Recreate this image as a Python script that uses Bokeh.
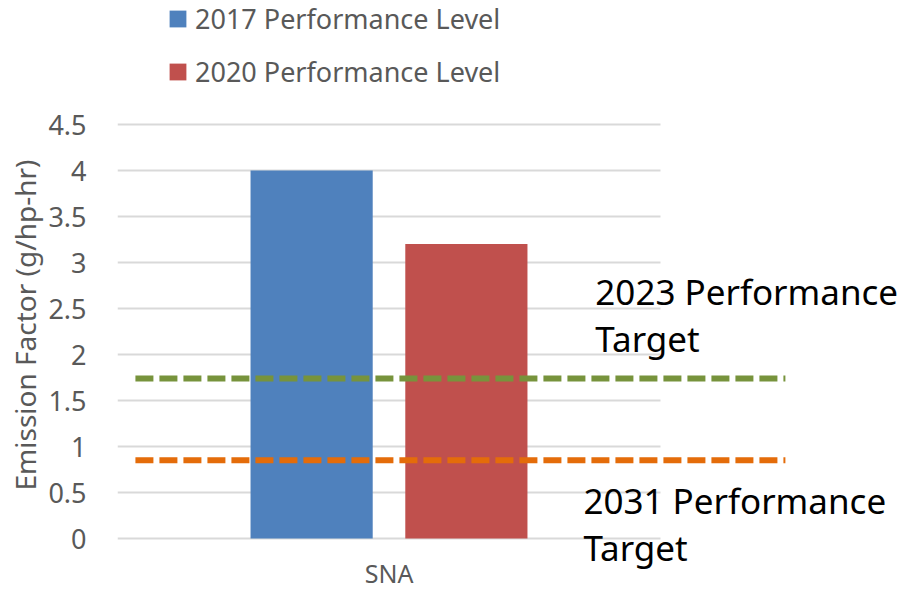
from bokeh.plotting import figure
from bokeh.models import (Range1d, FixedTicker, NumeralTickFormatter, Legend,
                          LegendItem, Title)
from bokeh.core.properties import value
from bokeh.embed import file_html
from bokeh.resources import INLINE

# ---- data ----
categories = ["SNA"]
series_names = ["2017 Performance Level", "2020 Performance Level"]
level_2017 = [4.0]
level_2020 = [3.2]
target_names = ["2023 Performance\nTarget", "2031 Performance\nTarget"]
target_2023 = 1.74
target_2031 = 0.85
y_ticks = [0, 0.5, 1, 1.5, 2, 2.5, 3, 3.5, 4, 4.5]
y_label = "Emission Factor (g/hp-hr)"

FONT = "Noto Sans"
GREY = "#595959"
BLUE = "#4F81BD"
RED = "#C0504D"
GREEN = "#77933C"
ORANGE = "#E46C0A"

p = figure(width=898, height=594, output_backend="svg", toolbar_location=None,
           x_range=Range1d(-0.5, 0.9383), y_range=Range1d(-0.6087, 5.848),
           x_axis_location=None, min_border_left=117, min_border_right=0,
           min_border_top=0, min_border_bottom=0)
p.outline_line_color = None
p.grid.visible = False

# y axis
ax = p.yaxis[0]
ax.ticker = FixedTicker(ticks=y_ticks)
ax.formatter = NumeralTickFormatter(format="0.[0]")
ax.axis_line_color = None
ax.major_tick_line_color = None
ax.minor_tick_line_color = None
ax.major_tick_out = 0
ax.major_label_standoff = 31
ax.major_label_text_font = FONT
ax.major_label_text_font_size = "27px"
ax.major_label_text_color = GREY

# y-axis title (rotated, placed left of the tick labels)
ytitle = Title(text=y_label, align="left", offset=104, standoff=4,
               text_font=FONT, text_font_size="28px", text_font_style="normal",
               text_color=GREY)
p.add_layout(ytitle, "left")

# gridlines (plot-area width only)
cat_idx = list(range(len(categories)))
p.segment(x0=[cat_idx[0] - 0.5] * len(y_ticks), x1=[cat_idx[-1] + 0.5] * len(y_ticks),
          y0=y_ticks, y1=y_ticks, line_color="#D9D9D9", line_width=2)

# bars
bw = 0.225
off = 0.1425
r1 = p.vbar(x=[i - off for i in cat_idx], top=level_2017, width=bw, bottom=0,
            fill_color=BLUE, line_color=None)
r2 = p.vbar(x=[i + off for i in cat_idx], top=level_2020, width=bw, bottom=0,
            fill_color=RED, line_color=None)

# target lines
x_start, x_end = -0.467, 0.730
for t, c in [(target_2023, GREEN), (target_2031, ORANGE)]:
    p.line(x=[x_start, x_end], y=[t, t], line_color=c, line_width=6,
           line_dash="18 6", line_cap="butt")

# target labels
l1, l2 = target_names[0].split("\n"), target_names[1].split("\n")
p.text(x=[0.380, 0.380, 0.358, 0.358],
       y=[target_2023 + 0.94, target_2023 + 0.43, target_2031 - 0.44, target_2031 - 0.95],
       text=l1 + l2, text_font=value(FONT), text_font_size="35px",
       text_color="black", text_baseline="alphabetic", text_align="left")

# category label
p.text(x=cat_idx, y=[-0.375] * len(cat_idx), text=categories, text_font=value(FONT),
       text_font_size="25px", text_color=GREY, text_align="center",
       text_baseline="alphabetic")

# legend
legend = Legend(items=[LegendItem(label=series_names[0], renderers=[r1]),
                       LegendItem(label=series_names[1], renderers=[r2])],
                location=(50, 504), orientation="vertical")
legend.glyph_width = 21
legend.glyph_height = 21
legend.label_standoff = 7
legend.label_text_font = FONT
legend.label_text_font_size = "27px"
legend.label_text_color = GREY
legend.spacing = 16
legend.padding = 0
legend.margin = 0
legend.border_line_color = None
legend.background_fill_alpha = 0
p.add_layout(legend, "center")

open("out.html", "w").write(file_html(p, INLINE))
